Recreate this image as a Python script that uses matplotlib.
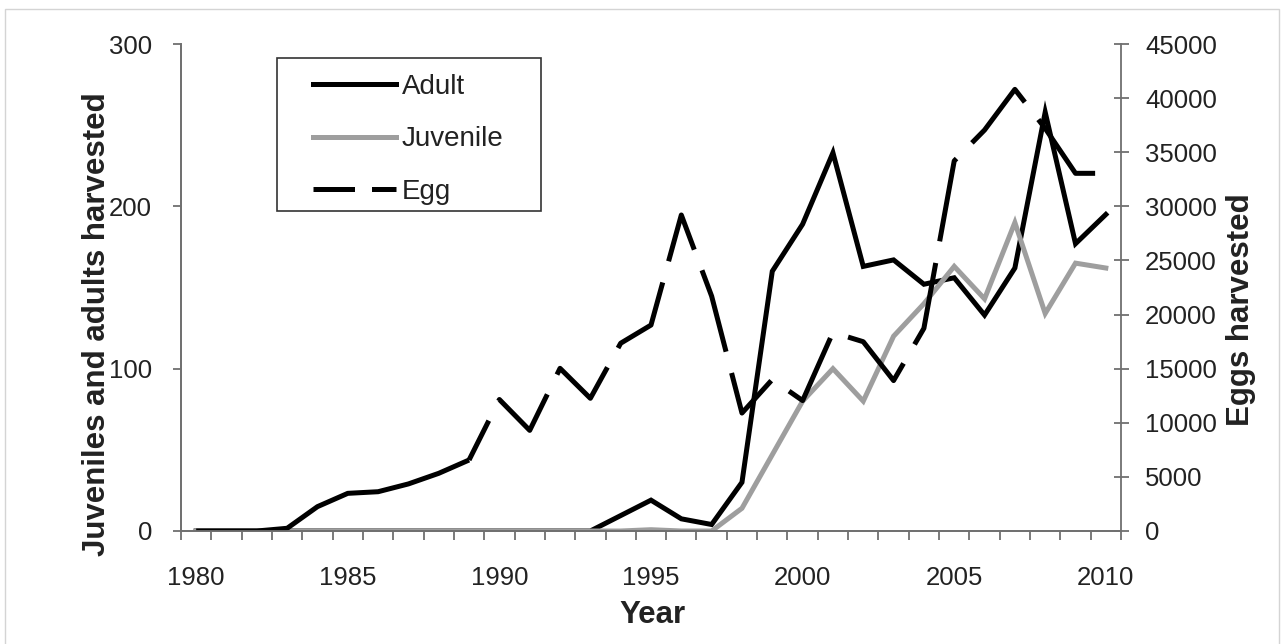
import matplotlib
matplotlib.use("Agg")
import matplotlib.pyplot as plt
import numpy as np
from matplotlib.lines import Line2D
from matplotlib.patches import Rectangle
from matplotlib.ticker import MultipleLocator

plt.rcParams['font.family'] = ['Liberation Sans', 'DejaVu Sans']

years = np.arange(1980, 2011)
adult = np.array([0, 0, 0, 0, 0, 0, 0, 0, 0, 0, 0, 0, 0,
                  0, 9.5, 19, 7.5, 4, 30, 160, 189, 233, 163, 167, 152,
                  156, 133, 162, 258, 177, 195])
juvenile = np.array([0, 0, 0, 0, 0, 0, 0, 0, 0, 0, 0, 0, 0, 0, 0,
                     0.8, 0, 0, 14, 47, 80, 100, 80, 120, 140, 163, 143,
                     190, 134, 165, 162])
egg = np.array([0, 0, 0, 250, 2250, 3480, 3630, 4350, 5330, 6560,
                12150, 9300, 15030, 12260, 17350, 19030, 29200, 21700,
                10900, 14000, 12050, 18350, 17490, 13900, 18730, 34200,
                37050, 40810, 37200, 33050, 33050])

W, H = 1281, 644
fig = plt.figure(figsize=(W / 100, H / 100), dpi=100)
ax = fig.add_axes([181 / W, 1 - 531 / H, (1121 - 181) / W, (531 - 44) / H])
ax2 = ax.twinx()

lw = 3.6
spine_c = '#707070'
text_c = '#222222'

ax.plot(years, adult, color='black', lw=lw, solid_joinstyle='miter')
ax.plot(years, juvenile, color='#9e9e9e', lw=lw, solid_joinstyle='miter')
# egg: first stretch is drawn as one long dash, the rest dashed
ax2.plot(years[:10], egg[:10], color='black', lw=lw, solid_capstyle='butt')
ax2.plot(years[9:], egg[9:], color='black', lw=lw,
         linestyle=(8.2, (17, 4.4)), dash_capstyle='butt')

ax.set_xlim(1979.5, 2010.5)
ax.set_ylim(0, 300)
ax2.set_ylim(0, 45000)

ax.set_xticks(np.arange(1980, 2011, 5))
ax.xaxis.set_minor_locator(MultipleLocator(1, offset=0.5))
ax.set_yticks([0, 100, 200, 300])
ax2.set_yticks(np.arange(0, 45001, 5000))

for a in (ax, ax2):
    a.spines['top'].set_visible(False)
    for s in a.spines.values():
        s.set_color(spine_c)
        s.set_linewidth(1.3)
ax.spines['right'].set_visible(False)

ax.tick_params(axis='x', which='major', length=0, pad=25, labelsize=18.5,
               labelcolor=text_c)
ax.tick_params(axis='x', which='minor', length=6.5, width=1.3,
               direction='out', color=spine_c)
ax.tick_params(axis='y', length=5.8, width=1.3, direction='out',
               color=spine_c, pad=15, labelsize=18.5, labelcolor=text_c)
ax2.tick_params(axis='y', length=10.8, width=1.3, direction='inout',
                color=spine_c, pad=12, labelsize=18.5, labelcolor=text_c)

fig.text(97 / W, 1 - 324 / H, 'Juveniles and adults harvested', rotation=90,
         ha='center', va='center', fontsize=22.5, fontweight='bold', color=text_c)
fig.text(1241 / W, 1 - 310 / H, 'Eggs harvested', rotation=90,
         ha='center', va='center', fontsize=22.5, fontweight='bold', color=text_c)
fig.text(652 / W, 1 - 615 / H, 'Year', ha='center', va='center',
         fontsize=22.5, fontweight='bold', color=text_c)

handles = [Line2D([], [], color='black', lw=lw),
           Line2D([], [], color='#9e9e9e', lw=lw),
           Line2D([], [], color='black', lw=lw, linestyle=(0, (8.3, 3.4)))]
ax.legend(handles, ['Adult', 'Juvenile', 'Egg'], loc='upper left',
          bbox_to_anchor=(313 / W, 1 - 74 / H), bbox_transform=fig.transFigure,
          frameon=False, borderpad=0, borderaxespad=0, fontsize=20,
          handlelength=3.0, handletextpad=0.2, labelspacing=0.95,
          labelcolor=text_c)
fig.patches.append(Rectangle((277 / W, 1 - 211 / H), 264 / W, 153 / H,
                             transform=fig.transFigure, fill=False,
                             edgecolor='#333333', lw=1.2))
fig.patches.append(Rectangle((5 / W, -0.01), 1274 / W, 1 - 9 / H + 0.01,
                             transform=fig.transFigure, fill=False,
                             edgecolor='#d4d4d4', lw=1))

fig.savefig('out.png', dpi=100)
